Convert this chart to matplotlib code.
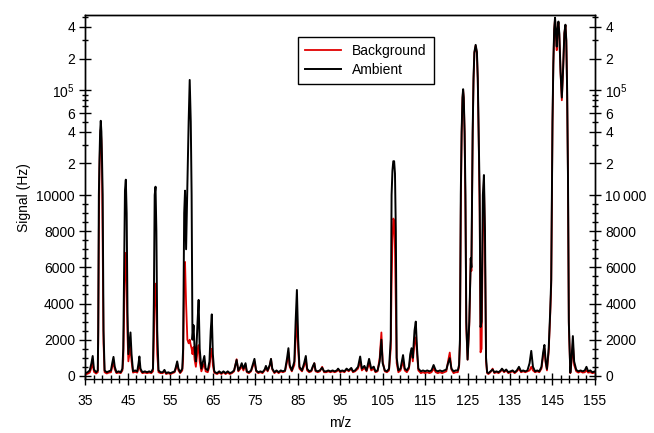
import numpy as np
import matplotlib
matplotlib.use("Agg")
import matplotlib.pyplot as plt
from matplotlib.ticker import FixedLocator, FixedFormatter

plt.rcParams["font.family"] = ["Liberation Sans", "DejaVu Sans"]
plt.rcParams["mathtext.default"] = "regular"

# m/z grid (shared by both traces), grouped by region
mz = [
    35.0, 35.5, 36.0, 36.4, 36.7, 37.0, 37.5,
    37.9, 38.0, 38.15, 38.3, 38.45, 38.6, 38.75, 38.9, 39.05, 39.25, 39.5,
    40.0, 40.5, 41.0, 41.3, 41.6, 41.9, 42.3, 42.8, 43.3, 43.7,
    43.9, 44.1, 44.3, 44.5, 44.7, 44.9, 45.1, 45.35, 45.6, 45.85,
    46.2, 46.7, 47.2, 47.5, 47.7, 47.95, 48.4, 49.0, 49.5, 50.0, 50.5,
    50.9, 51.1, 51.3, 51.5, 51.7, 51.9, 52.2, 52.7, 53.2, 53.6,
    54.0, 54.5, 55.0, 55.5, 56.0, 56.3, 56.6, 56.9, 57.3, 57.8,
    58.0, 58.25, 58.45, 58.7, 59.0, 59.3, 59.55, 59.8, 60.0, 60.2,
    60.45, 60.7, 61.0, 61.4, 61.65, 61.9, 62.3, 62.7, 63.0, 63.3,
    63.8, 64.2, 64.5, 64.75, 65.0, 65.3,
    65.5, 66.0, 66.5, 67.0, 67.5, 68.0, 68.5, 69.0, 69.5, 70.0,
    70.6, 71.0, 71.5, 71.8, 72.2, 72.7, 73.0, 73.5, 74.0, 74.5,
    74.8, 75.2, 75.7, 76.2, 76.7, 77.2, 77.5, 77.9, 78.4, 78.7,
    79.0, 79.5, 80.0, 80.5, 81.0, 81.5, 82.0, 82.5, 82.8, 83.1,
    83.6, 84.2, 84.5, 84.8, 85.1, 85.4, 86.0, 86.5, 86.9, 87.2,
    87.7, 88.2, 88.5, 88.9, 89.2, 89.7, 90.2, 90.75, 91.2, 91.7,
    92.2, 92.7, 93.2, 93.7, 94.2, 94.5, 95.0, 95.5, 96.0, 96.5,
    97.0, 97.6, 98.0, 98.5, 99.2, 99.7, 100.1, 100.7, 101.2, 101.8,
    102.3, 102.9, 103.3, 103.8, 104.3, 104.7, 105.0, 105.5, 106.0, 106.5,
    106.9, 107.1, 107.3, 107.5, 107.7, 107.9, 108.1, 108.3, 108.7, 109.2,
    109.8, 110.2, 110.7, 111.2, 111.5, 111.8, 112.1, 112.5, 112.8, 113.1,
    113.4, 114.0, 114.5, 115.0, 115.5, 116.0, 116.5, 117.0, 117.5, 118.0,
    118.5, 119.0, 119.5, 120.0, 120.4, 120.8, 121.2, 121.7, 122.2, 122.7,
    123.0, 123.2, 123.4, 123.6, 123.8, 123.95, 124.1, 124.3, 124.5, 124.7,
    125.0, 125.4, 125.75, 125.9, 126.05, 126.2, 126.4, 126.6, 126.9, 127.2,
    127.4, 127.6, 127.85, 128.05, 128.3, 128.6, 128.85, 129.1, 129.35, 129.6,
    129.9, 130.4, 130.9, 131.3, 131.8, 132.3, 132.8, 133.1, 133.6, 134.1,
    134.6, 135.1, 135.6, 136.1, 136.6, 137.1, 137.6, 138.1, 138.6, 139.1,
    139.6, 140.0, 140.4, 140.9, 141.4, 141.9, 142.4, 142.8, 143.1, 143.4,
    143.7, 144.1, 144.45, 144.7, 144.85, 145.0, 145.2, 145.4, 145.6, 145.8,
    146.0, 146.2, 146.4, 146.6, 146.9, 147.2, 147.5, 147.8, 148.05, 148.25,
    148.45, 148.65, 148.85, 149.2, 149.5, 149.8, 150.1, 150.6, 151.1, 151.6,
    152.1, 152.6, 153.0, 153.4, 153.9, 154.4, 155.0,
]

ambient = [
    150, 200, 300, 700, 1100, 350, 200,
    300, 2500, 10000, 22000, 40000, 51000, 40000, 22000, 10000, 2500, 300,
    200, 250, 300, 700, 1050, 500, 200, 250, 200, 400,
    1500, 6000, 11000, 14000, 9000, 3500, 1200, 1800, 2400, 1200,
    250, 300, 250, 700, 1070, 400, 200, 250, 200, 250, 200,
    400, 4000, 10000, 12000, 8000, 2500, 300, 200, 200, 330,
    150, 200, 150, 200, 250, 500, 800, 400, 200, 400,
    1500, 9000, 11000, 7000, 12000, 50000, 125000, 50000, 10000, 2000,
    2800, 1500, 800, 3000, 4200, 1500, 400, 800, 1100, 400,
    300, 800, 2500, 3400, 1200, 300,
    200, 150, 250, 150, 250, 150, 250, 150, 200, 300,
    880, 300, 500, 700, 400, 700, 250, 200, 300, 700,
    940, 300, 200, 250, 200, 350, 550, 300, 600, 940,
    400, 200, 300, 200, 300, 250, 300, 1000, 1530, 600,
    300, 800, 3000, 4750, 2000, 500, 300, 700, 1100, 400,
    250, 300, 500, 700, 300, 250, 300, 450, 250, 250,
    300, 250, 300, 250, 300, 400, 250, 300, 250, 400,
    300, 440, 250, 300, 500, 1070, 400, 550, 300, 940,
    400, 510, 250, 300, 800, 2000, 700, 300, 250, 400,
    2000, 10000, 17000, 21000, 21000, 16000, 8000, 1000, 300, 400,
    1150, 400, 300, 500, 1200, 1530, 1000, 2500, 3000, 1500,
    400, 250, 300, 250, 300, 250, 300, 600, 300, 250,
    300, 250, 300, 350, 700, 980, 400, 250, 300, 300,
    600, 2000, 10000, 40000, 85000, 102000, 85000, 40000, 10000, 3000,
    900, 3000, 6500, 6000, 10000, 40000, 130000, 230000, 270000, 230000,
    130000, 40000, 10000, 2700, 3000, 10000, 15500, 8000, 1000, 200,
    150, 250, 350, 200, 250, 200, 300, 400, 250, 350,
    200, 250, 300, 200, 300, 500, 250, 300, 250, 300,
    700, 1380, 500, 250, 300, 250, 500, 1300, 1710, 800,
    380, 1500, 3500, 5300, 10000, 50000, 180000, 380000, 490000, 350000,
    260000, 380000, 450000, 350000, 150000, 85000, 160000, 350000, 420000, 300000,
    100000, 15000, 3000, 180, 1000, 2200, 800, 330, 250, 300,
    250, 300, 500, 250, 300, 200, 250,
]

background = [
    80, 120, 180, 450, 700, 220, 130,
    200, 1800, 8000, 18000, 33000, 42000, 33000, 17000, 7500, 1800, 200,
    130, 180, 200, 500, 750, 350, 150, 180, 150, 300,
    900, 3500, 6000, 6800, 5000, 2200, 800, 1200, 1600, 800,
    180, 220, 180, 450, 700, 300, 150, 180, 150, 180, 150,
    250, 2000, 4300, 5100, 3800, 1200, 200, 150, 150, 250,
    100, 150, 100, 150, 200, 400, 700, 300, 150, 300,
    900, 5500, 6300, 4000, 2000, 1800, 2000, 1700, 1500, 1200,
    1600, 900, 500, 1400, 1700, 800, 250, 500, 700, 250,
    200, 500, 1200, 1500, 600, 200,
    150, 100, 180, 100, 200, 100, 180, 100, 150, 250,
    920, 250, 400, 550, 300, 600, 200, 150, 250, 600,
    800, 250, 150, 200, 150, 300, 450, 250, 550, 920,
    350, 150, 250, 150, 250, 200, 250, 800, 1300, 500,
    250, 600, 2000, 3200, 1400, 400, 250, 550, 900, 300,
    200, 250, 450, 700, 250, 200, 250, 500, 200, 200,
    250, 200, 250, 200, 250, 350, 200, 250, 200, 350,
    250, 400, 200, 250, 400, 800, 300, 450, 250, 700,
    300, 400, 200, 250, 1000, 2400, 800, 250, 200, 300,
    1500, 5000, 7500, 8700, 8600, 7000, 4000, 700, 200, 300,
    800, 300, 200, 400, 1000, 1400, 800, 1800, 2130, 1200,
    300, 150, 200, 150, 200, 150, 200, 400, 200, 150,
    200, 150, 200, 250, 800, 1290, 350, 150, 200, 200,
    500, 1800, 9000, 38000, 82000, 100000, 83000, 38000, 9000, 2600,
    900, 2800, 6500, 5800, 9500, 38000, 125000, 225000, 265000, 225000,
    125000, 38000, 9000, 1300, 1500, 8000, 14000, 7000, 800, 150,
    100, 200, 400, 150, 200, 150, 250, 350, 200, 300,
    150, 200, 250, 150, 250, 400, 200, 250, 200, 250,
    300, 500, 300, 200, 250, 200, 400, 1100, 1530, 700,
    300, 1300, 3300, 5000, 9500, 48000, 175000, 370000, 480000, 330000,
    240000, 370000, 440000, 340000, 145000, 80000, 155000, 345000, 415000, 295000,
    95000, 14000, 2800, 150, 800, 1800, 600, 250, 180, 250,
    180, 200, 300, 180, 200, 150, 180,
]

assert len(mz) == len(ambient) == len(background)

# y axis: linear up to 10000, log above (Igor-style split axis)
LIN_TOP = 1e4
LIN_SPAN = 181 / 105  # height of linear part, in decades


def fwd(y):
    y = np.asarray(y, dtype=float)
    return np.where(y <= LIN_TOP, y / LIN_TOP * LIN_SPAN,
                    LIN_SPAN + np.log10(np.maximum(y, LIN_TOP) / LIN_TOP))


def inv(t):
    t = np.asarray(t, dtype=float)
    return np.where(t <= LIN_SPAN, t / LIN_SPAN * LIN_TOP,
                    LIN_TOP * 10 ** (np.maximum(t, LIN_SPAN) - LIN_SPAN))


major_y = [0, 2000, 4000, 6000, 8000, 10000, 2e4, 4e4, 6e4, 1e5, 2e5, 4e5]
left_labels = ["0", "2000", "4000", "6000", "8000", "10000",
               "2", "4", "6", "$10^5$", "2", "4"]
right_labels = ["0", "2000", "4000", "6000", "8000", "10\u2009000",
                "2", "4", "6", "$10^5$", "2", "4"]
minor_y = [v for v in range(500, 10000, 500) if v % 2000] + \
          [3e4, 5e4, 7e4, 8e4, 9e4, 3e5, 5e5]

fig = plt.figure(figsize=(6.54, 4.33), dpi=100)
ax = fig.add_axes([0.1307, 0.1236, 0.779, 0.8418])

ax.plot(mz, background, color="#e00000", lw=1.3, label="Background")
ax.plot(mz, ambient, color="black", lw=1.4, label="Ambient")

ax.set_xlim(35, 155)
ax.set_xticks(np.arange(35, 156, 10))
ax.set_xticks(np.arange(37, 155, 2), minor=True)
ax.set_xlabel("m/z", fontsize=10, labelpad=6)
ax.set_ylabel("Signal (Hz)", fontsize=10)

ax2 = ax.twinx()
for a, labels in ((ax, left_labels), (ax2, right_labels)):
    a.set_yscale("function", functions=(fwd, inv))
    a.set_ylim(-200, 5.2e5)
    a.yaxis.set_major_locator(FixedLocator(major_y))
    a.yaxis.set_major_formatter(FixedFormatter(labels))
    a.yaxis.set_minor_locator(FixedLocator(minor_y))
    a.tick_params(axis="y", which="major", direction="inout", length=8,
                  width=1, labelsize=10)
    a.tick_params(axis="y", which="minor", direction="inout", length=4.5,
                  width=1)
    for s in a.spines.values():
        s.set_linewidth(1)

ax.tick_params(axis="x", which="major", direction="inout", length=9, width=1,
               labelsize=10, pad=6)
ax.tick_params(axis="x", which="minor", direction="inout", length=6, width=1)
ax2.spines["bottom"].set_visible(False)

leg = ax.legend(loc="upper left", bbox_to_anchor=(0.417, 0.94),
                borderaxespad=0, fancybox=False, edgecolor="black",
                framealpha=1, fontsize=10, handlelength=2.6,
                borderpad=0.5, labelspacing=0.35)
leg.get_frame().set_linewidth(1)

fig.savefig("out.png", dpi=100)
